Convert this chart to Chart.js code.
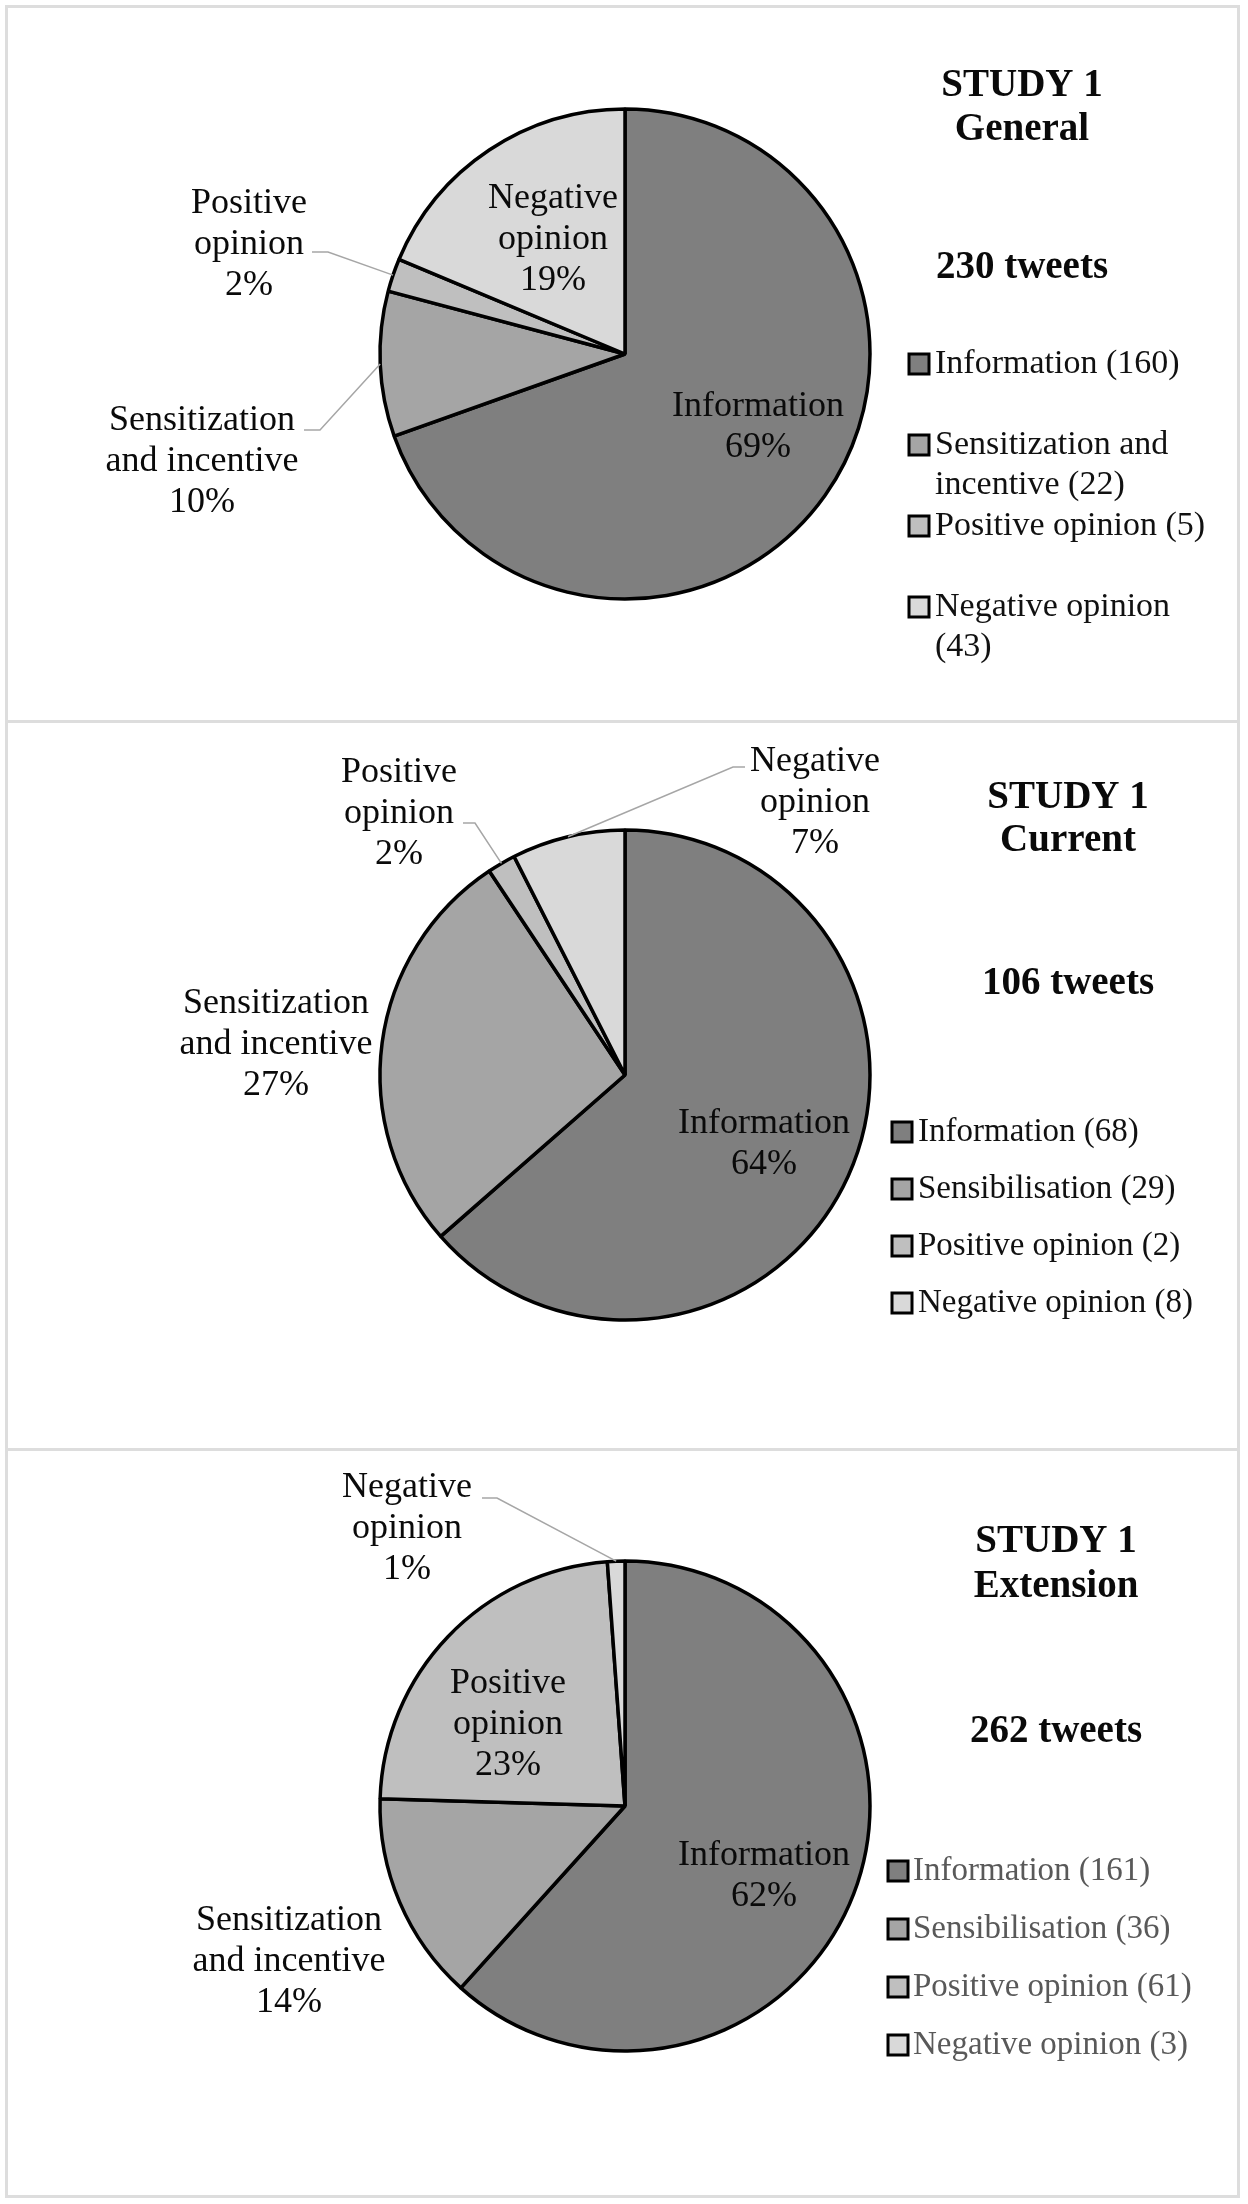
<!DOCTYPE html>
<html>
<head>
    <meta charset="utf-8">
    <title>Study 1 tweets</title>
    <script src="https://cdn.jsdelivr.net/npm/chart.js"></script>
    <style>
        body { margin: 0; background: #ffffff; }
        .page { position: relative; width: 1248px; height: 2204px; }
        .frame {
            position: absolute; left: 5px; top: 5px;
            width: 1229px; height: 2187px;
            border: 3px solid #dddddd;
        }
        .divider { position: absolute; left: 5px; width: 1235px; height: 3px; background: #dddddd; }
        canvas { position: absolute; left: 0; }
    </style>
</head>
<body>
<div class="page">
    <div class="frame"></div>
    <div class="divider" style="top: 720px;"></div>
    <div class="divider" style="top: 1448px;"></div>
    <canvas id="general" width="1248" height="722" style="top: 0px; width: 1248px; height: 722px;"></canvas>
    <canvas id="current" width="1248" height="728" style="top: 722px; width: 1248px; height: 728px;"></canvas>
    <canvas id="extension" width="1248" height="754" style="top: 1450px; width: 1248px; height: 754px;"></canvas>
</div>

<script>
    // data
    var categories = ['Information', 'Sensitization and incentive', 'Positive opinion', 'Negative opinion'];
    var sliceLabelLines = [['Information'], ['Sensitization', 'and incentive'], ['Positive', 'opinion'], ['Negative', 'opinion']];
    var legendNamesGeneral = ['Information', 'Sensitization and incentive', 'Positive opinion', 'Negative opinion'];
    var legendNamesOther = ['Information', 'Sensibilisation', 'Positive opinion', 'Negative opinion'];
    var generalCounts = [160, 22, 5, 43];
    var currentCounts = [68, 29, 2, 8];
    var extensionCounts = [161, 36, 61, 3];
    // percentages as printed on the slices
    var generalShares = [69, 10, 2, 19];
    var currentShares = [64, 27, 2, 7];
    var extensionShares = [62, 14, 23, 1];
    var studyNames = ['General', 'Current', 'Extension'];
    var tweetTotals = [230, 106, 262];

    var sliceColors = ['#7f7f7f', '#a5a5a5', '#bfbfbf', '#d9d9d9'];
    var serif = "'Liberation Serif', 'Times New Roman', serif";

    // layout per panel (canvas-local pixels)
    var layouts = [
        {
            padBottom: 14, titleX: 1022, titleY: [96, 140], tweetsY: 278,
            legend: { markerX: 909, textX: 935, y0: 373, step: 81, lineH: 40, maxW: 290, size: 34, color: '#111111' },
            labels: [{ x: 758, y: 416 }, { x: 202, y: 430 }, { x: 249, y: 213 }, { x: 553, y: 208 }],
            leaders: [{ idx: 1, elbowX: 320, elbowY: 430, startX: 304 }, { idx: 2, elbowX: 328, elbowY: 252, startX: 312 }]
        },
        {
            padBottom: 22, titleX: 1068, titleY: [86, 129], tweetsY: 272,
            legend: { markerX: 892, textX: 918, y0: 419, step: 57, lineH: 40, maxW: 400, size: 33, color: '#111111' },
            labels: [{ x: 764, y: 411 }, { x: 276, y: 291 }, { x: 399, y: 60 }, { x: 815, y: 49 }],
            leaders: [{ idx: 2, elbowX: 475, elbowY: 101, startX: 463 }, { idx: 3, elbowX: 733, elbowY: 45, startX: 745 }]
        },
        {
            padBottom: 42, titleX: 1056, titleY: [102, 147], tweetsY: 292,
            legend: { markerX: 888, textX: 913, y0: 430, step: 58, lineH: 40, maxW: 400, size: 33, color: '#595959' },
            labels: [{ x: 764, y: 415 }, { x: 289, y: 480 }, { x: 508, y: 243 }, { x: 407, y: 47 }],
            leaders: [{ idx: 3, elbowX: 497, elbowY: 48, startX: 482 }]
        }
    ];

    function wrapText(ctx, text, maxW) {
        var words = text.split(' ');
        var lines = [];
        var line = '';
        words.forEach(function (w) {
            var test = line ? line + ' ' + w : w;
            if (line && ctx.measureText(test).width > maxW) {
                lines.push(line);
                line = w;
            } else {
                line = test;
            }
        });
        lines.push(line);
        return lines;
    }

    var panelPlugin = {
        id: 'panelText',
        afterDraw: function (chart) {
            var ctx = chart.ctx;
            var lay = chart.options.plugins.panelText;
            var meta = chart.getDatasetMeta(0);
            var values = chart.data.datasets[0].data;
            ctx.save();

            // leader lines from slice edge to label
            ctx.strokeStyle = '#a6a6a6';
            ctx.lineWidth = 1.5;
            lay.leaders.forEach(function (ld) {
                var arc = meta.data[ld.idx];
                var mid = (arc.startAngle + arc.endAngle) / 2;
                ctx.beginPath();
                ctx.moveTo(arc.x + Math.cos(mid) * arc.outerRadius, arc.y + Math.sin(mid) * arc.outerRadius);
                ctx.lineTo(ld.elbowX, ld.elbowY);
                ctx.lineTo(ld.startX, ld.elbowY);
                ctx.stroke();
            });

            // slice labels
            ctx.fillStyle = '#0a0a0a';
            ctx.textAlign = 'center';
            ctx.textBaseline = 'alphabetic';
            ctx.font = '36px ' + serif;
            lay.labels.forEach(function (pos, i) {
                var lines = sliceLabelLines[i].concat([lay.shares[i] + '%']);
                lines.forEach(function (t, k) {
                    ctx.fillText(t, pos.x, pos.y + k * 41);
                });
            });

            // title and count
            ctx.font = 'bold 39px ' + serif;
            ctx.fillText('STUDY 1', lay.titleX, lay.titleY[0]);
            ctx.fillText(lay.study, lay.titleX, lay.titleY[1]);
            ctx.fillText(lay.tweets + ' tweets', lay.titleX, lay.tweetsY);

            // legend
            var lg = lay.legend;
            ctx.textAlign = 'left';
            ctx.font = lg.size + 'px ' + serif;
            chart.data.labels.forEach(function (name, i) {
                var y = lg.y0 + i * lg.step;
                ctx.fillStyle = sliceColors[i];
                ctx.fillRect(lg.markerX, y - 19, 20, 20);
                ctx.strokeStyle = '#000000';
                ctx.lineWidth = 3;
                ctx.strokeRect(lg.markerX, y - 19, 20, 20);
                ctx.fillStyle = lg.color;
                wrapText(ctx, name + ' (' + values[i] + ')', lg.maxW).forEach(function (t, k) {
                    ctx.fillText(t, lg.textX, y + k * lg.lineH);
                });
            });
            ctx.restore();
        }
    };

    function makeChart(id, counts, shares, names, n) {
        var lay = layouts[n];
        lay.study = studyNames[n];
        lay.tweets = tweetTotals[n];
        lay.shares = shares;
        return new Chart(document.getElementById(id), {
            type: 'pie',
            data: {
                labels: names,
                datasets: [{
                    data: counts,
                    backgroundColor: sliceColors,
                    borderColor: '#000000',
                    borderWidth: 3.5,
                    radius: 245
                }]
            },
            options: {
                responsive: false,
                animation: false,
                layout: { padding: { left: 2, right: 0, top: 0, bottom: lay.padBottom } },
                plugins: {
                    legend: { display: false },
                    tooltip: { enabled: false },
                    panelText: lay
                }
            },
            plugins: [panelPlugin]
        });
    }

    makeChart('general', generalCounts, generalShares, legendNamesGeneral, 0);
    makeChart('current', currentCounts, currentShares, legendNamesOther, 1);
    makeChart('extension', extensionCounts, extensionShares, legendNamesOther, 2);
</script>
</body>
</html>
